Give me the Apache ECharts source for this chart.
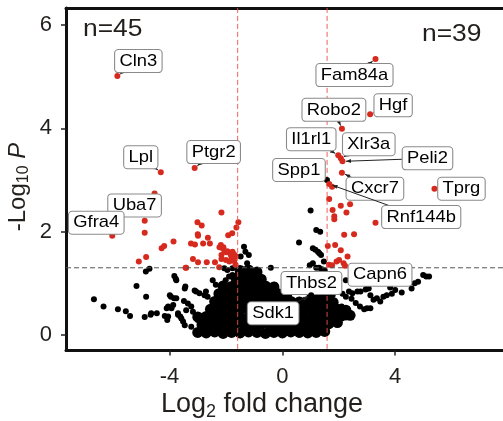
<!DOCTYPE html>
<html>
<head>
<meta charset="utf-8">
<script src="https://cdn.jsdelivr.net/npm/echarts@6/dist/echarts.min.js"></script>
<style>
html,body{margin:0;padding:0;background:#fff;}
#chart{width:503px;height:421px;}
</style>
</head>
<body>
<div id="chart"></div>
<script>
// ---------- data ----------
const xTicks = [-4, 0, 4];
const yTicks = [0, 2, 4, 6];
const fcCut = 1.585;      // log2(3)
const pCut = 1.301;       // -log10(0.05)

// dense core of non-significant genes
const corePts = [
[-3.0,0.05],[-2.7,0.04],[-2.4,0.06],[-2.1,0.03],[-1.8,0.05],[-1.5,0.04],[-1.2,0.06],[-0.9,0.05],[-0.6,0.03],[-0.3,0.05],[0.0,0.04],[0.3,0.06],[0.6,0.05],[0.9,0.04],[1.2,0.05],[1.5,0.07],
[-2.85,0.2],[-2.55,0.21],[-2.25,0.19],[-1.95,0.2],[-1.65,0.22],[-1.35,0.2],[-1.05,0.19],[-0.75,0.21],[-0.45,0.2],[-0.15,0.18],[0.15,0.2],[0.45,0.21],[0.75,0.2],[1.05,0.19],[1.35,0.2],[1.65,0.22],[1.95,0.24],
[-3.0,0.35],[-2.7,0.36],[-2.4,0.34],[-2.1,0.35],[-1.8,0.36],[-1.5,0.35],[-1.2,0.34],[-0.9,0.36],[-0.6,0.35],[-0.3,0.34],[0.0,0.35],[0.3,0.36],[0.6,0.35],[0.9,0.34],[1.2,0.35],[1.5,0.36],[1.8,0.35],[2.1,0.37],[2.4,0.38],
[-2.55,0.5],[-2.25,0.51],[-1.95,0.49],[-1.65,0.5],[-1.35,0.52],[-1.05,0.5],[-0.75,0.49],[-0.45,0.5],[-0.15,0.51],[0.15,0.5],[0.45,0.49],[0.75,0.5],[1.05,0.51],[1.35,0.5],[1.65,0.52],[1.95,0.5],[2.25,0.48],
[-2.4,0.65],[-2.1,0.66],[-1.8,0.64],[-1.5,0.65],[-1.2,0.66],[-0.9,0.65],[-0.6,0.64],[-0.3,0.65],[0.0,0.66],[0.3,0.65],[0.6,0.64],[0.9,0.65],[1.2,0.66],[1.5,0.65],[1.8,0.63],
[-2.25,0.8],[-1.95,0.81],[-1.65,0.79],[-1.35,0.8],[-1.05,0.82],[-0.75,0.8],[-0.45,0.79],[-0.15,0.8],[0.15,0.78],[1.05,0.79],[1.35,0.81],[1.65,0.8],
[-2.1,0.95],[-1.8,0.94],[-1.5,0.96],[-1.2,0.95],[-0.9,0.97],[-0.6,0.95],[-0.3,0.93],[1.5,0.95],
[-1.65,1.1],[-1.35,1.11],[-1.05,1.1],[-0.75,1.08],
[-1.5,1.25],[-1.2,1.26],[-0.9,1.22]
];

// scattered non-significant genes
const blackPts = [
[-6.68,0.69],[-6.34,0.55],[-5.83,0.50],[-5.55,0.46],[-5.40,0.37],[-5.17,0.95],[-4.83,0.74],[-4.88,0.35],
[-4.84,1.23],[-4.71,1.28],[-4.67,0.39],[-4.65,0.42],[-4.45,0.42],[-4.17,0.37],[-4.10,0.52],[-4.05,0.36],
[-4.08,0.29],[-3.95,0.74],[-3.83,1.14],[-3.78,1.09],[-3.76,1.06],[-3.87,0.58],[-3.76,0.71],[-3.70,0.42],
[-3.62,0.36],[-3.58,0.32],[-3.52,0.26],[-3.46,0.90],[-3.44,0.94],[-3.99,0.77],[-3.84,0.71],[-4.05,0.55],
[-3.93,0.52],[-3.70,0.39],[-3.35,0.61],[-3.23,0.55],[-3.41,0.48],[-3.17,0.45],[-3.06,0.84],[-2.94,0.81],
[-2.76,0.77],[-2.65,0.74],[-2.36,0.97],[-2.18,0.93],[-2.01,1.06],[-1.89,1.13],[-1.77,1.16],[-1.95,1.26],
[-1.77,1.29],[-3.00,0.29],[-2.76,0.16],[-3.23,0.16],[-3.46,0.19],[-3.11,0.86],[-2.71,0.84],[-2.47,1.06],
[-3.49,0.66],[-2.06,1.29],[-1.36,1.71],[-1.31,1.61],[-1.19,1.55],[-1.48,1.52],[-1.25,1.39],[-0.41,1.30],
[0.59,1.79],[-0.27,0.97],[1.00,2.41],[1.20,2.03],[1.34,2.00],[1.08,1.68],[1.17,1.65],[1.26,1.61],
[1.31,1.58],[1.37,1.55],[1.47,1.42],[0.97,1.35],[1.08,1.39],[1.20,1.30],[1.30,1.30],[1.40,1.27],
[1.50,1.25],[1.78,0.77],[2.13,0.80],[2.36,0.84],[2.66,0.84],[3.00,0.90],[3.12,0.77],[3.23,0.68],
[3.35,0.71],[3.47,0.65],[3.58,0.74],[3.70,0.77],[3.88,0.80],[4.00,0.87],[4.23,0.82],[4.58,0.90],
[4.69,1.00],[4.81,1.03],[4.99,1.16],[5.10,1.13],[5.20,1.13],[3.12,0.52],[3.06,0.90],[3.82,0.92],
[2.25,0.74],[2.48,0.81],[2.77,0.84],[2.95,0.88],[2.25,0.34],[2.25,1.06],[2.45,0.70],[2.60,0.62],
[2.75,0.55],[2.90,0.50],[3.00,0.52],[2.10,0.55],[2.30,0.50],[1.16,0.03],[1.90,0.45],[2.00,0.30]
];

// significant genes without a label
const redPts = [
[-4.88,2.21],[-4.88,1.98],[-5.09,1.42],[-4.83,1.51],[-4.28,1.68],[-4.19,1.72],[-3.86,1.81],[-3.43,1.30],
[-2.16,2.37],[-3.01,2.18],[-2.86,2.12],[-3.00,1.95],[-2.99,1.92],[-2.64,1.88],[-3.24,1.77],[-3.10,1.75],
[-2.81,1.77],[-2.57,1.77],[-2.23,1.70],[-2.09,1.70],[-1.92,1.93],[-1.78,1.97],[-1.63,2.08],[-1.56,2.18],
[-1.99,1.60],[-2.16,1.55],[-1.75,1.58],[-1.69,1.55],[-3.17,1.47],[-2.99,1.41],[-2.68,1.41],[-2.39,1.41],
[-2.16,1.47],[-1.80,1.48],[-1.66,1.52],[-3.41,1.30],[-2.24,1.31],[-2.18,1.74],[-2.12,1.68],[-1.95,1.62],
[-1.77,1.61],[-1.83,1.55],[-2.00,1.45],[-1.88,1.42],[-1.71,1.43],[-2.05,1.62],[-1.66,1.36],
[1.76,2.87],[1.66,2.63],[2.07,2.50],[2.40,2.53],[1.78,2.42],[2.27,2.37],[1.84,2.30],[1.84,2.24],
[3.30,2.17],[2.19,1.94],[2.54,1.95],[1.61,1.72],[1.87,1.74],[2.07,1.64],[1.76,1.35],[1.92,1.42],
[2.01,1.45],[2.17,1.39],[2.31,1.52],[1.65,1.36]
];

// labelled genes
const labelGenes = ['Cln3','Lpl','Ptgr2','Uba7','Gfra4','Fam84a','Hgf','Robo2','Il1rl1','Xlr3a','Peli2','Spp1','Cxcr7','Rnf144b','Tprg','Capn6','Thbs2','Sdk1'];
const labelFC   = [-5.85,-4.31,-3.11,-4.53,-6.03, 3.30, 3.11, 2.11, 1.98, 2.07, 2.13, 1.58, 2.11, 1.66, 5.39, 2.22, 1.10, 1.02];
const labelP    = [ 5.01, 3.15, 3.23, 2.74, 1.92, 5.34, 4.27, 3.99, 3.48, 3.42, 3.36, 3.00, 3.14, 2.92, 2.83, 1.34, 0.85, 0.77];
const countDown = 'n=45';
const countUp = 'n=39';
const xTitle = '{t|Log}{s|2}{t| fold change}';
const yTitle = '{t|-Log}{s|10}{t| }{i|P}';

// ---------- layout (pixel offsets of label boxes from their points) ----------
const labelOffsets = [
[21,-15],[-20,-15],[19,-16],[-20,12],[-16,-13],[-21,16],[23,-9],[-8,-19],[-27,-16],[28,-14],[85,-3],[-28,-10],[33,16],[92,33],[27,0],[35,9],[-2,-8],[-38,18]
];

const FONT = '"Liberation Sans", Arial, Helvetica, sans-serif';
const RED = '#d62a1e';
const TXT = '#231f1c';

const chart = echarts.init(document.getElementById('chart'), null, {renderer:'canvas'});

const labelData = labelGenes.map((g,i)=>[labelFC[i], labelP[i], g]);

function renderLabel(params, api){
  const i = params.dataIndex;
  const fc = api.value(0), p = api.value(1);
  const pt = api.coord([fc, p]);
  const off = labelOffsets[i];
  const c = [pt[0]+off[0], pt[1]+off[1]];
  const dx = c[0]-pt[0], dy = c[1]-pt[1];
  const len = Math.sqrt(dx*dx+dy*dy) || 1;
  const ux = dx/len, uy = dy/len;
  const s = [pt[0]+ux*3.5, pt[1]+uy*3.5];
  const b = [s[0]+ux*5, s[1]+uy*5];
  const sig = Math.abs(fc) > fcCut && p > pCut;
  return {
    type:'group',
    children:[
      {type:'circle', shape:{cx:pt[0], cy:pt[1], r:3}, style:{fill: sig ? RED : '#000'}},
      {type:'line', shape:{x1:s[0], y1:s[1], x2:c[0], y2:c[1]}, style:{stroke:'#222', lineWidth:1}},
      {type:'polygon', shape:{points:[[s[0],s[1]],[b[0]-uy*2,b[1]+ux*2],[b[0]+uy*2,b[1]-ux*2]]}, style:{fill:'#222'}},
      {type:'text', x:c[0], y:c[1], scaleX:1.08, style:{
        text: labelGenes[i], fill:'#000', font:'17px ' + FONT,
        align:'center', verticalAlign:'middle',
        backgroundColor:'#fff', borderColor:'#8a8a8a', borderWidth:1, borderRadius:3,
        padding:[3,4,2,4]
      }}
    ]
  };
}

// vertical and horizontal cut-off lines drawn in data space via custom series
function renderCuts(params, api){
  const top = api.coord([0, 6.33])[1];
  const bottom = api.coord([0, -0.3])[1];
  const xl = api.coord([-fcCut, 0])[0];
  const xr = api.coord([fcCut, 0])[0];
  const yp = api.coord([0, pCut])[1];
  const left = api.coord([-7.67, 0])[0];
  const right = api.coord([7.82, 0])[0];
  return {
    type:'group',
    children:[
      {type:'line', shape:{x1:xl, y1:top, x2:xl, y2:bottom}, style:{stroke:'#f0504a', lineWidth:1, lineDash:[5,3], opacity:0.9}},
      {type:'line', shape:{x1:xr, y1:top, x2:xr, y2:bottom}, style:{stroke:'#f0504a', lineWidth:1, lineDash:[5,3], opacity:0.9}},
      {type:'line', shape:{x1:left, y1:yp, x2:right, y2:yp}, style:{stroke:'#555', lineWidth:1, lineDash:[5,3]}}
    ]
  };
}

const option = {
  backgroundColor:'#fff',
  animation:false,
  grid:{left:66, top:7.9, width:443.5, height:342.6},
  xAxis:[{
    type:'value', min:-7.67, max:7.82, position:'bottom',
    splitLine:{show:false},
    axisLine:{show:true, onZero:false, lineStyle:{color:'#111', width:3}},
    axisTick:{show:true, length:5, customValues:xTicks, lineStyle:{color:'#222', width:1.5}},
    axisLabel:{customValues:xTicks, fontSize:22, color:TXT, fontFamily:FONT, margin:15}
  },{
    type:'value', min:-7.67, max:7.82, position:'top',
    splitLine:{show:false},
    axisLine:{show:true, onZero:false, lineStyle:{color:'#111', width:3}},
    axisTick:{show:false}, axisLabel:{show:false}
  }],
  yAxis:[{
    type:'value', min:-0.3, max:6.33,
    splitLine:{show:false},
    axisLine:{show:true, onZero:false, lineStyle:{color:'#111', width:3}},
    axisTick:{show:true, length:5, customValues:yTicks, lineStyle:{color:'#222', width:1.5}},
    axisLabel:{customValues:yTicks, fontSize:22, color:TXT, fontFamily:FONT, margin:14}
  }],
  graphic:[
    {type:'text', x:83, y:29, scaleX:1.1, style:{text:countDown, font:'24px '+FONT, fill:TXT, verticalAlign:'middle'}},
    {type:'text', x:422, y:34, scaleX:1.1, style:{text:countUp, font:'24px '+FONT, fill:TXT, verticalAlign:'middle'}},
    {type:'text', x:262, y:405, style:{text:xTitle, align:'center', verticalAlign:'middle', rich:{
      t:{fontSize:27, fill:TXT, fontFamily:FONT},
      s:{fontSize:18, fill:TXT, fontFamily:FONT, padding:[14,0,0,0]}
    }}},
    {type:'text', x:18, y:187, rotation:Math.PI/2, style:{text:yTitle, align:'center', verticalAlign:'middle', rich:{
      t:{fontSize:24, fill:TXT, fontFamily:FONT},
      s:{fontSize:16, fill:TXT, fontFamily:FONT, padding:[12,0,0,0]},
      i:{fontSize:24, fill:TXT, fontFamily:FONT, fontStyle:'italic'}
    }}}
  ],
  series:[
    {type:'scatter', name:'core', data:corePts, symbolSize:11, itemStyle:{color:'#000', opacity:1}, silent:true, z:1},
    {type:'scatter', name:'ns', data:blackPts, symbolSize:6, itemStyle:{color:'#000', opacity:1}, silent:true, z:1},
    {type:'scatter', name:'sig', data:redPts, symbolSize:6, itemStyle:{color:RED, opacity:1}, silent:true, z:2},
    {type:'custom', name:'cuts', data:[[0,0]], renderItem:renderCuts, silent:true, z:3, clip:false, encode:{x:0, y:1}},
    {type:'custom', name:'labels', data:labelData, renderItem:renderLabel, silent:true, z:10,
      encode:{x:0, y:1}, clip:false}
  ]
};
chart.setOption(option);
</script>
</body>
</html>
